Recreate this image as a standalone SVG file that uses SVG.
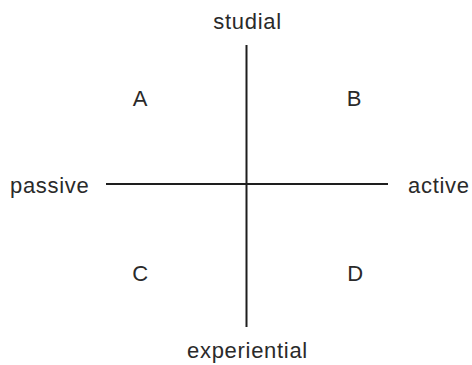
<svg xmlns="http://www.w3.org/2000/svg" width="472" height="365" viewBox="0 0 472 365">
<style>
text{font-family:"Liberation Sans",Arial,sans-serif;font-size:22px;fill:#2a2a2a;letter-spacing:0.7px}
.c{text-anchor:middle}
.ax{stroke:#1e1e1e;stroke-width:2;fill:none}
</style>
<rect width="472" height="365" fill="#fff"/>
<g id="connectors">
<line class="ax" x1="246.5" y1="45" x2="246.5" y2="327"/>
<line class="ax" x1="106" y1="184" x2="388" y2="184"/>
</g>
<g id="studial"><text class="c" x="247.5" y="29">studial</text></g>
<g id="experiential"><text class="c" x="247.5" y="358">experiential</text></g>
<g id="passive"><text x="10" y="193">passive</text></g>
<g id="active"><text x="408" y="193">active</text></g>
<g id="A"><text class="c" x="140.5" y="106">A</text></g>
<g id="B"><text class="c" x="354.5" y="106">B</text></g>
<g id="C"><text class="c" x="140.5" y="281">C</text></g>
<g id="D"><text class="c" x="355.5" y="281">D</text></g>
</svg>
